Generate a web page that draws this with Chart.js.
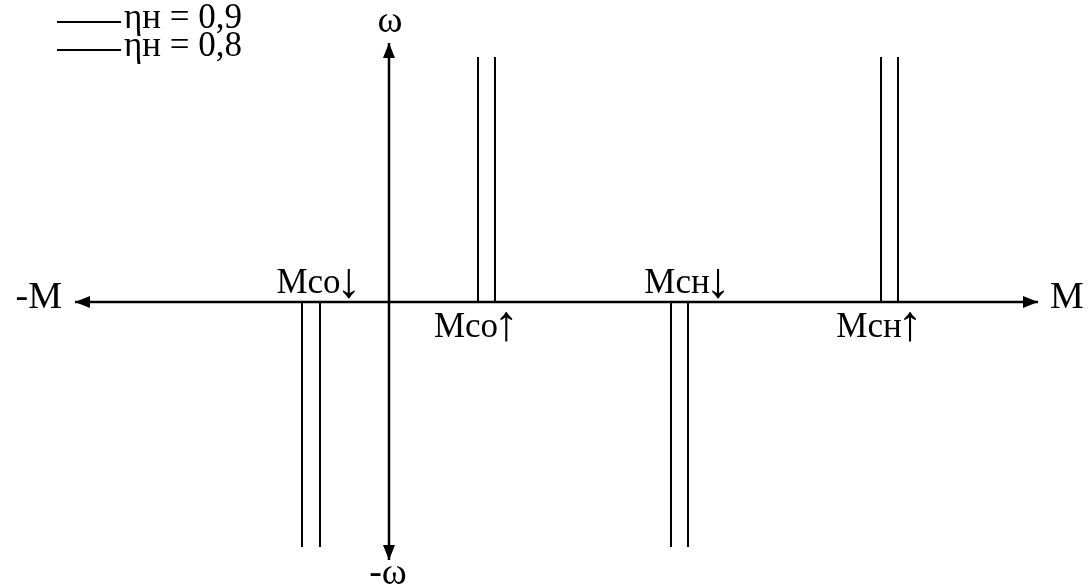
<!DOCTYPE html>
<html>
<head>
<meta charset="utf-8">
<script src="https://cdn.jsdelivr.net/npm/chart.js@4.4.0/dist/chart.umd.min.js"></script>
<style>
    html, body { margin: 0; padding: 0; background: #fff; }
</style>
</head>
<body>
<canvas id="chart" width="1088" height="587"></canvas>
<script>
// Moment values of each pair of characteristics (two efficiencies)
const pairNames = ['Mсо', 'Mсо', 'Mсн', 'Mсн'];
const pairArrows = ['↓', '↑', '↓', '↑'];
const eta09 = [-8.7, 8.9, 28.2, 49.2];
const eta08 = [-6.9, 10.6, 29.9, 50.9];
const omegaEnd = [-24.5, 24.5, -24.5, 24.5];
// Axis extents
const axisM = [-31.4, 64.9];
const axisW = [-25.8, 25.9];
const legendLabels = ['ηн = 0,9', 'ηн = 0,8'];

const FONT = '"Liberation Serif", "Times New Roman", serif';

// build vertical segments with gaps between them
function segments(xs) {
    const pts = [];
    xs.forEach(function(m, i) {
        pts.push({x: m, y: 0});
        pts.push({x: m, y: omegaEnd[i]});
        pts.push({x: m, y: null});
    });
    return pts;
}

function arrowHead(ctx, px, py, angle) {
    ctx.save();
    ctx.translate(px, py);
    ctx.rotate(angle);
    ctx.beginPath();
    ctx.moveTo(0, 0);
    ctx.lineTo(-15, -6);
    ctx.lineTo(-15, 6);
    ctx.closePath();
    ctx.fill();
    ctx.restore();
}

const annotate = {
    id: 'annotate',
    afterDatasetsDraw(chart) {
        const ctx = chart.ctx;
        const x = chart.scales.x;
        const y = chart.scales.y;
        const x0 = x.getPixelForValue(0);
        const y0 = y.getPixelForValue(0);
        ctx.save();
        ctx.fillStyle = '#000';
        ctx.strokeStyle = '#000';

        // axis arrows
        const left = x.getPixelForValue(axisM[0]);
        const right = x.getPixelForValue(axisM[1]);
        const top = y.getPixelForValue(axisW[1]);
        const bottom = y.getPixelForValue(axisW[0]);
        arrowHead(ctx, right, y0, 0);
        arrowHead(ctx, left, y0, Math.PI);
        arrowHead(ctx, x0, top, -Math.PI / 2);
        arrowHead(ctx, x0, bottom, Math.PI / 2);

        // axis names
        ctx.textBaseline = 'middle';
        ctx.font = '38px ' + FONT;
        ctx.textAlign = 'right';
        ctx.fillText('-M', left - 13, y0 - 4);
        ctx.textAlign = 'left';
        ctx.fillText('M', right + 12, y0 - 4);
        ctx.textAlign = 'center';
        ctx.font = '38px ' + FONT;
        ctx.fillText('ω', x0 + 1, top - 21);
        ctx.fillText('-ω', x0 - 1, bottom + 14);

        // pair labels: name followed by a tall arrow glyph
        ctx.textBaseline = 'alphabetic';
        ctx.textAlign = 'left';
        pairNames.forEach(function(name, i) {
            const mid = (x.getPixelForValue(eta09[i]) + x.getPixelForValue(eta08[i])) / 2;
            ctx.font = '35px ' + FONT;
            const w1 = ctx.measureText(name).width;
            ctx.font = '50px ' + FONT;
            const w2 = ctx.measureText(pairArrows[i]).width;
            const total = w1 + w2 - 4;
            let cx, base;
            if (omegaEnd[i] < 0) {
                cx = mid + 8;
                base = y0 - 9;
            } else {
                cx = mid - 10;
                base = y0 + 35;
            }
            const sx = cx - total / 2;
            ctx.font = '35px ' + FONT;
            ctx.fillText(name, sx, base);
            ctx.font = '50px ' + FONT;
            ctx.fillText(pairArrows[i], sx + w1 - 4, base + (omegaEnd[i] < 0 ? 4 : 3));
        });

        // legend
        ctx.font = '35px ' + FONT;
        ctx.textAlign = 'left';
        ctx.textBaseline = 'middle';
        ctx.lineWidth = 2;
        legendLabels.forEach(function(label, i) {
            const ly = 22 + i * 28;
            ctx.beginPath();
            ctx.moveTo(57, ly);
            ctx.lineTo(121, ly);
            ctx.stroke();
            ctx.fillText(label, 124, ly - 3);
        });
        ctx.restore();
    }
};

const lineStyle = {
    showLine: true,
    borderColor: '#000',
    backgroundColor: '#000',
    borderWidth: 2,
    pointRadius: 0,
    spanGaps: false
};

new Chart(document.getElementById('chart').getContext('2d'), {
    type: 'scatter',
    data: {
        datasets: [
            Object.assign({label: legendLabels[0], data: segments(eta09)}, lineStyle),
            Object.assign({label: legendLabels[1], data: segments(eta08)}, lineStyle),
            Object.assign({label: 'M', data: [{x: axisM[0], y: 0}, {x: axisM[1], y: 0}]}, lineStyle, {borderWidth: 2.5}),
            Object.assign({label: 'ω', data: [{x: 0, y: axisW[0]}, {x: 0, y: axisW[1]}]}, lineStyle, {borderWidth: 2.5})
        ]
    },
    options: {
        responsive: false,
        animation: false,
        layout: { padding: 0 },
        scales: {
            x: { type: 'linear', min: -38.9, max: 69.9, display: false },
            y: { type: 'linear', min: -28.5, max: 30.2, display: false }
        },
        plugins: {
            legend: { display: false },
            tooltip: { enabled: false }
        }
    },
    plugins: [annotate]
});
</script>
</body>
</html>
